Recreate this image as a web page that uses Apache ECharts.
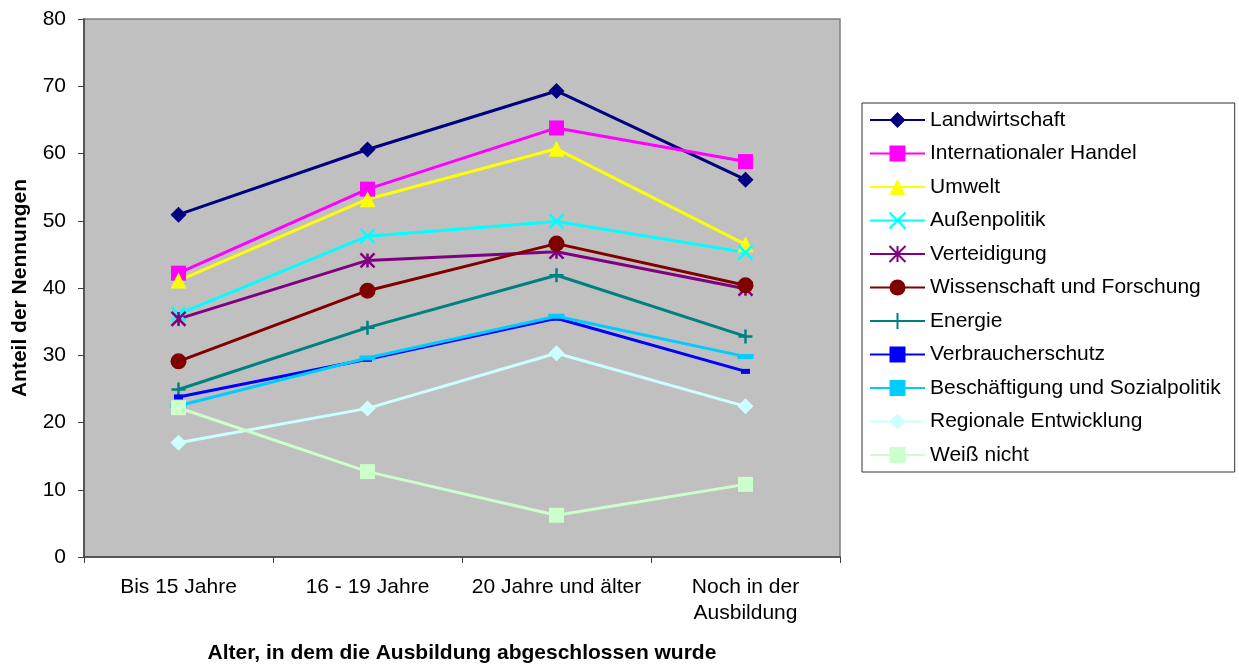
<!DOCTYPE html>
<html><head><meta charset="utf-8">
<script src="https://cdn.jsdelivr.net/npm/echarts@6/dist/echarts.min.js"></script>
<style>html,body{margin:0;padding:0;background:#fff}#c{width:1239px;height:666px}</style>
</head><body><div id="c"></div>
<script>
const categories = ['Bis 15 Jahre', '16 - 19 Jahre', '20 Jahre und älter', 'Noch in der\nAusbildung'];
const yTicks = [0, 10, 20, 30, 40, 50, 60, 70, 80];
const landwirtschaft = [50.9, 60.6, 69.3, 56.1];
const internationalerHandel = [42.2, 54.7, 63.8, 58.8];
const umwelt = [41.1, 53.2, 60.7, 46.5];
const aussenpolitik = [36.1, 47.7, 49.9, 45.3];
const verteidigung = [35.4, 44.1, 45.4, 39.9];
const wissenschaft = [29.1, 39.6, 46.6, 40.4];
const energie = [24.9, 34.1, 41.9, 32.8];
const verbraucherschutz = [23.8, 29.4, 35.5, 27.6];
const beschaeftigung = [22.5, 29.6, 35.8, 29.8];
const regional = [17.0, 22.1, 30.3, 22.4];
const weissNicht = [22.2, 12.7, 6.2, 10.8];

const X = 'path://M0,0L10,10M10,0L0,10';
const AST = 'path://M0,0L10,10M10,0L0,10M5,0L5,10';
const PLUS = 'path://M5,0L5,10M0,5L10,5';

function s(name, data, color, symbol, size, stroke) {
  const o = {
    name, type: 'line', data, symbol, symbolSize: size,
    lineStyle: { color, width: 3 },
    itemStyle: { color, borderColor: color, borderWidth: stroke ? 2.5 : 0 },
    emphasis: { disabled: true }, animation: false
  };
  if (stroke) o.itemStyle.color = 'rgba(0,0,0,0)';
  return o;
}
const FONT = '"Liberation Sans", Arial, sans-serif';
const chart = echarts.init(document.getElementById('c'));
chart.setOption({
  animation: false,
  backgroundColor: '#ffffff',
  grid: { left: 84, top: 19, width: 756, height: 538, outerBoundsMode: 'none', containLabel: false,
          show: true, backgroundColor: '#C0C0C0', borderColor: '#808080', borderWidth: 1.5 },
  legend: {
    orient: 'vertical', left: 862, top: 103,
    padding: [5, 14, 5, 7], borderColor: '#333', borderWidth: 1,
    itemWidth: 55, itemHeight: 20, itemGap: 9.5,
    textStyle: { fontFamily: FONT, fontSize: 21, color: '#000', lineHeight: 24 },
    data: ['Landwirtschaft','Internationaler Handel','Umwelt','Außenpolitik','Verteidigung','Wissenschaft und Forschung','Energie','Verbraucherschutz','Beschäftigung und Sozialpolitik','Regionale Entwicklung','Weiß nicht']
  },
  xAxis: {
    type: 'category', data: categories, boundaryGap: true,
    name: 'Alter, in dem die Ausbildung abgeschlossen wurde', nameLocation: 'middle', nameGap: 86, nameMoveOverlap: false,
    nameTextStyle: { fontFamily: FONT, fontSize: 21, fontWeight: 'bold', color: '#000' },
    axisLine: { lineStyle: { color: '#404040', width: 1.5 } },
    axisTick: { show: true, length: 6, interval: 0, lineStyle: { color: '#404040' } },
    axisLabel: { fontFamily: FONT, fontSize: 21, color: '#000', margin: 17, lineHeight: 26, interval: 0 },
    splitLine: { show: false }
  },
  yAxis: {
    type: 'value', min: 0, max: 80, interval: 10,
    name: 'Anteil der Nennungen', nameLocation: 'middle', nameGap: 53, nameRotate: 90, nameMoveOverlap: false,
    nameTextStyle: { fontFamily: FONT, fontSize: 21, fontWeight: 'bold', color: '#000' },
    axisLine: { show: true, lineStyle: { color: '#404040', width: 1.5 } },
    axisTick: { show: true, length: 6, lineStyle: { color: '#404040' } },
    axisLabel: { fontFamily: FONT, fontSize: 21, color: '#000', margin: 18, formatter: v => yTicks.includes(v) ? String(v) : '' },
    splitLine: { show: false }
  },
  series: [
    s('Landwirtschaft', landwirtschaft, '#000080', 'diamond', 16),
    s('Internationaler Handel', internationalerHandel, '#FF00FF', 'rect', 15),
    s('Umwelt', umwelt, '#FFFF00', 'triangle', 16),
    s('Außenpolitik', aussenpolitik, '#00FFFF', X, 14, true),
    s('Verteidigung', verteidigung, '#800080', AST, 14, true),
    s('Wissenschaft und Forschung', wissenschaft, '#800000', 'circle', 16),
    s('Energie', energie, '#008080', PLUS, 14, true),
    s('Verbraucherschutz', verbraucherschutz, '#0000FF', 'rect', [9, 5]),
    s('Beschäftigung und Sozialpolitik', beschaeftigung, '#00CCFF', 'rect', [16, 5]),
    s('Regionale Entwicklung', regional, '#CCFFFF', 'diamond', 16),
    s('Weiß nicht', weissNicht, '#CCFFCC', 'rect', 15)
  ]
});
</script></body></html>
